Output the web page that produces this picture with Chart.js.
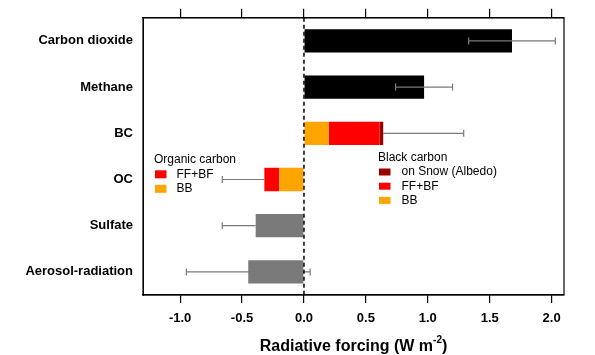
<!DOCTYPE html>
<html>
<head>
<meta charset="utf-8">
<script src="https://cdn.jsdelivr.net/npm/chart.js@4/dist/chart.umd.min.js"></script>
<style>
html,body{margin:0;padding:0;background:#fff;}
canvas{display:block;}
</style>
</head>
<body>
<canvas id="c" width="595" height="355"></canvas>
<script>
// ---- data ----
const categories = ["Carbon dioxide", "Methane", "BC", "OC", "Sulfate", "Aerosol-radiation"];
const ghgValues     = [1.68, 0.97, null, null, null, null];
const bbValues      = [null, null, 0.20, -0.20, null, null];
const ffbfValues    = [null, null, 0.41, -0.12, null, null];
const snowValues    = [null, null, 0.03, null, null, null];
const aerosolValues = [null, null, null, null, -0.39, -0.45];
const errLow  = [1.33, 0.74, null, -0.66, -0.66, -0.95];
const errHigh = [2.03, 1.20, 1.29, null, null, 0.05];
const xMin = -1.3, xMax = 2.1, xStep = 0.5;
const ocLegend = ["FF+BF", "BB"];
const bcLegend = ["on Snow (Albedo)", "FF+BF", "BB"];

const FONT = "'Liberation Sans', Arial, Helvetica, sans-serif";
const COL = {black:"#000000", orange:"#ffa500", red:"#ff0000", dark:"#990000", grey:"#7a7a7a"};

const overlay = {
  id: "overlay",
  afterDatasetsDraw(chart) {
    const ctx = chart.ctx, ca = chart.chartArea;
    const xs = chart.scales.x, ys = chart.scales.y;
    ctx.save();
    // error bars
    ctx.strokeStyle = COL.grey; ctx.lineWidth = 1.2;
    categories.forEach((c, i) => {
      const vals = [ghgValues[i], bbValues[i], ffbfValues[i], snowValues[i], aerosolValues[i]].filter(v => v != null);
      const pos = vals.filter(v => v > 0).reduce((a, b) => a + b, 0);
      const neg = vals.filter(v => v < 0).reduce((a, b) => a + b, 0);
      const total = pos !== 0 ? pos : neg;
      const lo = errLow[i] != null ? errLow[i] : total;
      const hi = errHigh[i] != null ? errHigh[i] : total;
      const y = ys.getPixelForValue(i);
      const x1 = xs.getPixelForValue(lo), x2 = xs.getPixelForValue(hi);
      ctx.beginPath(); ctx.moveTo(x1, y); ctx.lineTo(x2, y); ctx.stroke();
      const cap = 3.5;
      if (errLow[i] != null) { ctx.beginPath(); ctx.moveTo(x1, y - cap); ctx.lineTo(x1, y + cap); ctx.stroke(); }
      if (errHigh[i] != null) { ctx.beginPath(); ctx.moveTo(x2, y - cap); ctx.lineTo(x2, y + cap); ctx.stroke(); }
    });
    // zero dashed line
    const x0 = xs.getPixelForValue(0);
    ctx.strokeStyle = "#000"; ctx.lineWidth = 1.5; ctx.setLineDash([4, 3]);
    ctx.beginPath(); ctx.moveTo(x0, ca.top); ctx.lineTo(x0, ca.bottom); ctx.stroke();
    ctx.setLineDash([]);
    // box
    ctx.lineWidth = 1.2;
    ctx.strokeRect(ca.left, ca.top, ca.right - ca.left, ca.bottom - ca.top);

    // legends
    ctx.textBaseline = "middle"; ctx.textAlign = "left";
    ctx.fillStyle = "#000"; ctx.font = "12px " + FONT;
    let lx = ca.left + 11, ly = ca.top + 142;
    ctx.fillText("Organic carbon", lx, ly);
    const ocCols = [COL.red, COL.orange];
    ocLegend.forEach((t, k) => {
      const yy = ly + 14.5 * (k + 1);
      ctx.fillStyle = ocCols[k]; ctx.fillRect(lx + 1, yy - 4, 11.5, 8);
      ctx.fillStyle = "#000"; ctx.fillText(t, lx + 22.5, yy);
    });
    lx = ca.left + 235; ly = ca.top + 140;
    ctx.fillText("Black carbon", lx, ly);
    const bcCols = [COL.dark, COL.red, COL.orange];
    bcLegend.forEach((t, k) => {
      const yy = ly + 14.2 * (k + 1);
      ctx.fillStyle = bcCols[k]; ctx.fillRect(lx + 1, yy - 3.5, 11.5, 7);
      ctx.fillStyle = "#000"; ctx.fillText(t, lx + 23.5, yy);
    });

    // x axis title with superscript
    const cx = (ca.left + ca.right) / 2, ty = ca.bottom + 52;
    const main = "Radiative forcing (W m", sup = "-2", end = ")";
    ctx.font = "bold 16px " + FONT;
    const w1 = ctx.measureText(main).width, w3 = ctx.measureText(end).width;
    ctx.font = "bold 10px " + FONT;
    const w2 = ctx.measureText(sup).width;
    let sx = cx - (w1 + w2 + w3) / 2;
    ctx.fillStyle = "#000";
    ctx.font = "bold 16px " + FONT; ctx.fillText(main, sx, ty);
    ctx.font = "bold 10px " + FONT; ctx.fillText(sup, sx + w1, ty - 7);
    ctx.font = "bold 16px " + FONT; ctx.fillText(end, sx + w1 + w2, ty);
    ctx.restore();
  }
};

const ds = (label, data, color) => ({label, data, backgroundColor: color, borderWidth: 0, stack: "s", categoryPercentage: 1, barPercentage: 0.505});

new Chart(document.getElementById("c"), {
  type: "bar",
  data: {
    labels: categories,
    datasets: [
      ds("GHG", ghgValues, COL.black),
      ds("BB", bbValues, COL.orange),
      ds("FF+BF", ffbfValues, COL.red),
      ds("on Snow (Albedo)", snowValues, COL.dark),
      ds("Aerosol", aerosolValues, COL.grey)
    ]
  },
  options: {
    indexAxis: "y",
    responsive: false,
    devicePixelRatio: 1,
    animation: false,
    layout: {padding: {left: 0, right: 31, top: 0, bottom: 0}},
    plugins: {legend: {display: false}, tooltip: {enabled: false}},
    scales: {
      x: {
        type: "linear", position: "bottom", stacked: true,
        min: xMin, max: xMax,
        grid: {drawOnChartArea: false, drawTicks: true, tickLength: 8, color: "#000", lineWidth: 1.2},
        border: {display: true, color: "#000", width: 1.2},
        ticks: {stepSize: xStep, includeBounds: false, color: "#000", padding: 8,
          font: {family: FONT, size: 13, weight: "bold"},
          callback: v => Number(v).toFixed(1)},
        afterFit: s => { s.height = 60; }
      },
      x2: {
        type: "linear", position: "top",
        min: xMin, max: xMax,
        grid: {drawOnChartArea: false, drawTicks: true, tickLength: 9, color: "#000", lineWidth: 1.2},
        border: {display: true, color: "#000", width: 1.2},
        ticks: {stepSize: xStep, includeBounds: false, display: false},
        afterFit: s => { s.height = 15; }
      },
      y: {
        type: "category", stacked: true,
        grid: {display: false, drawTicks: false},
        border: {display: true, color: "#000"},
        ticks: {color: "#000", padding: 10, font: {family: FONT, size: 13, weight: "bold"}},
        afterFit: s => { s.width = 143; }
      }
    }
  },
  plugins: [overlay]
});
</script>
</body>
</html>
